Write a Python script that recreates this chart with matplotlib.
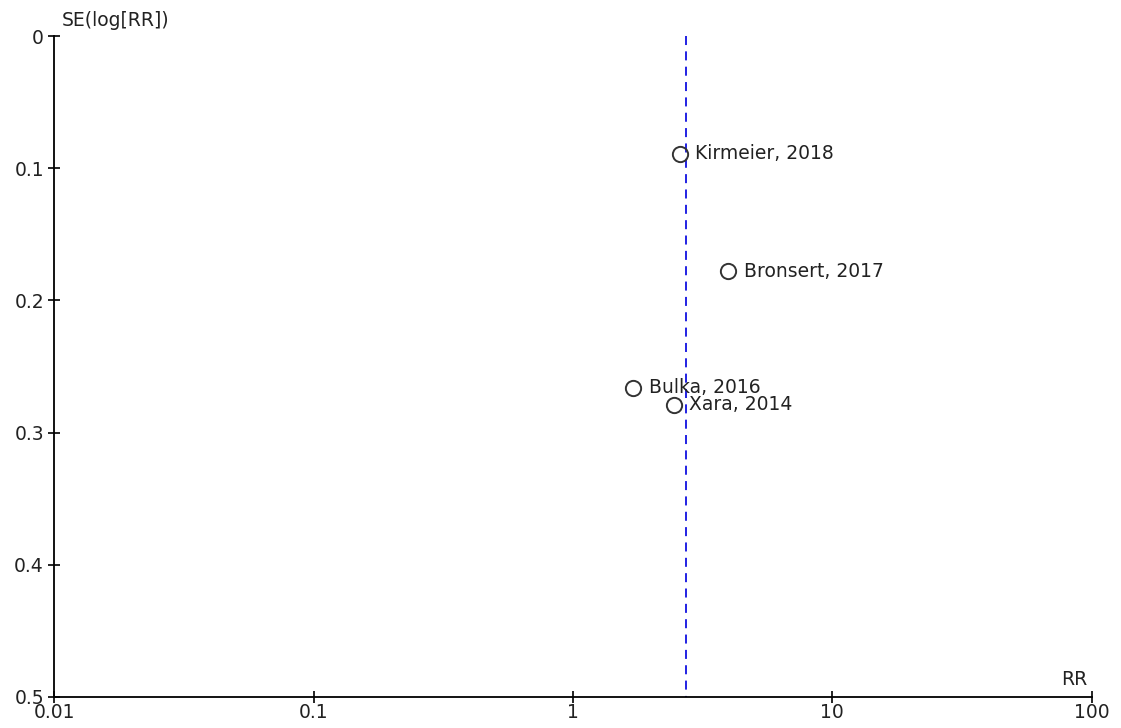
import matplotlib
matplotlib.use("Agg")
import matplotlib.pyplot as plt

# study data
studies = ["Kirmeier, 2018", "Bronsert, 2017", "Bulka, 2016", "Xara, 2014"]
rr = [2.59, 3.97, 1.71, 2.45]
se_log_rr = [0.089, 0.178, 0.266, 0.279]
pooled_rr = 2.73

x_ticks = [0.01, 0.1, 1, 10, 100]
x_tick_labels = ["0.01", "0.1", "1", "10", "100"]
y_ticks = [0, 0.1, 0.2, 0.3, 0.4, 0.5]
y_tick_labels = ["0", "0.1", "0.2", "0.3", "0.4", "0.5"]

plt.rcParams['font.family'] = ['DejaVu Sans']
FS = 13.5
TXT = '#222222'

fig = plt.figure(figsize=(11.21, 7.28), dpi=100)
ax = fig.add_axes([54.3 / 1121, 31 / 728, (1091.7 - 54.3) / 1121, (697 - 36) / 728])

ax.set_xscale('log')
ax.set_xlim(0.01, 100)
ax.set_ylim(0.5, 0)

# pooled estimate
ax.plot([pooled_rr, pooled_rr], [0, 0.5], color='#1010e0', lw=1.3,
        dashes=(5, 3.5), zorder=1)

ax.plot(rr, se_log_rr, 'o', ms=11, mfc='none', mec='#333333', mew=1.4, zorder=3)
for name, x, y in zip(studies, rr, se_log_rr):
    ax.annotate(name, (x, y), xytext=(11, 0), textcoords='offset points',
                va='center', ha='left', fontsize=FS, color=TXT)

for s in ['top', 'right']:
    ax.spines[s].set_visible(False)
for s in ['left', 'bottom']:
    ax.spines[s].set_linewidth(1.3)
    ax.spines[s].set_color('black')

ax.set_xticks(x_ticks)
ax.set_xticklabels(x_tick_labels)
ax.set_yticks(y_ticks)
ax.set_yticklabels(y_tick_labels)
ax.minorticks_off()
ax.tick_params(axis='both', direction='inout', length=9, width=1.2,
               labelsize=FS, labelcolor=TXT)
ax.tick_params(axis='x', pad=0)
ax.tick_params(axis='y', pad=3)

fig.text(62 / 1121, 1 - 30 / 728, "SE(log[RR])", fontsize=FS, color=TXT,
         ha='left', va='bottom')
fig.text(1087 / 1121, 1 - 689 / 728, "RR", fontsize=FS, color=TXT,
         ha='right', va='bottom')

fig.savefig('out.png', dpi=100)
